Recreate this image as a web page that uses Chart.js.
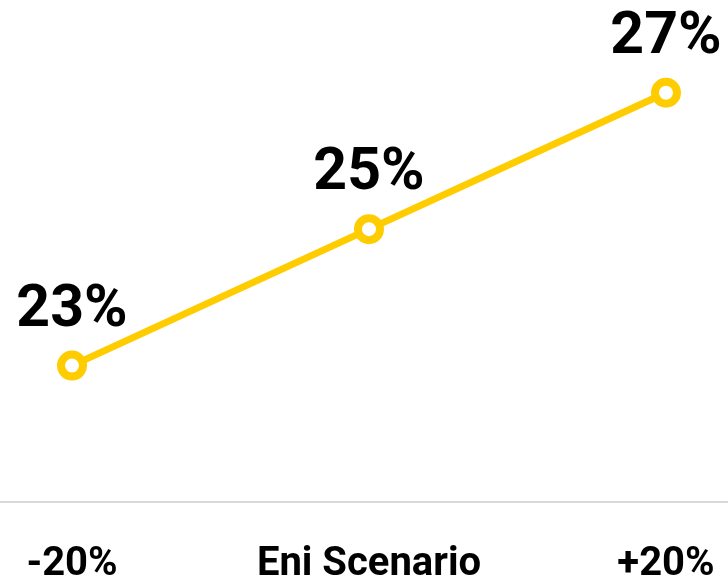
<!DOCTYPE html>
<html>
<head>
<meta charset="utf-8">
<script src="https://cdn.jsdelivr.net/npm/chart.js@4"></script>
<style>
  html, body { margin: 0; padding: 0; background: #fff; }
  #wrap { width: 728px; height: 583px; }
</style>
</head>
<body>
<div id="wrap"><canvas id="myChart"></canvas></div>
<script>
const categories = ['-20%', 'Eni Scenario', '+20%'];
const values = [23, 25, 27];
const valueLabels = ['23%', '25%', '27%'];

const FONT = "Roboto, 'Open Sans', sans-serif";

// data labels above each point
const pointLabels = {
  id: 'pointLabels',
  afterDatasetsDraw(chart) {
    const ctx = chart.ctx;
    const meta = chart.getDatasetMeta(0);
    ctx.save();
    ctx.font = 'bold 59px ' + FONT;
    ctx.fillStyle = '#000';
    ctx.textAlign = 'center';
    ctx.textBaseline = 'alphabetic';
    meta.data.forEach((pt, i) => {
      ctx.fillText(valueLabels[i], pt.x, pt.y - 40);
    });
    ctx.restore();
  }
};

const ctx = document.getElementById('myChart').getContext('2d');
new Chart(ctx, {
  type: 'line',
  data: {
    datasets: [{
      data: values.map((v, i) => ({ x: i, y: v })),
      borderColor: '#FFCC00',
      borderWidth: 7,
      pointRadius: 11,
      pointBorderWidth: 8,
      pointBackgroundColor: '#fff',
      pointBorderColor: '#FFCC00',
      tension: 0,
      clip: false
    }]
  },
  options: {
    responsive: true,
    maintainAspectRatio: false,
    animation: false,
    layout: { padding: 0, autoPadding: false },
    plugins: { legend: { display: false }, tooltip: { enabled: false } },
    scales: {
      x: {
        type: 'linear',
        min: -0.2424,
        max: 2.2088,
        afterBuildTicks: (axis) => { axis.ticks = [0, 1, 2].map(v => ({ value: v })); },
        afterFit: (axis) => {
          axis.height = 81;
          axis.paddingLeft = 0;
          axis.paddingRight = 0;
        },
        grid: { display: false, drawTicks: false },
        border: { display: true, color: '#d9d9d9', width: 2 },
        ticks: {
          callback: (v) => categories[v],
          color: '#000',
          font: { family: FONT, size: 40, weight: 'bold' },
          padding: 39,
          maxRotation: 0,
          autoSkip: false
        }
      },
      y: {
        display: false,
        min: 21,
        max: 28.36
      }
    }
  },
  plugins: [pointLabels]
});
</script>
</body>
</html>
